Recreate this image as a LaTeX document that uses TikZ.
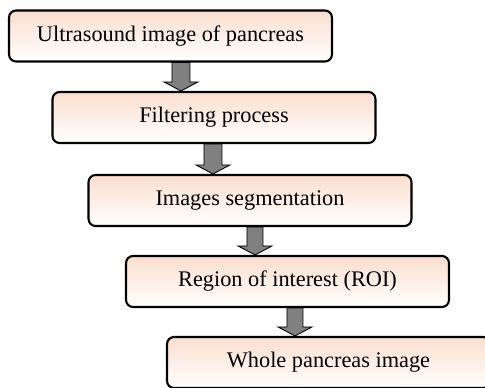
\documentclass[tikz,border=0pt]{standalone}
\usepackage{fontspec}
\setmainfont{Liberation Serif}
\usepackage{xcolor}
\usepackage{tikz}
\usetikzlibrary{calc}

\definecolor{peach}{RGB}{250,222,206}
\definecolor{arrowgray}{RGB}{128,128,128}

\begin{document}
\begin{tikzpicture}[x=0.02cm, y=-0.02cm,
  stepbox/.style={draw, line width=1.2pt, rounded corners=4pt,
    top color=peach, bottom color=white,
    minimum width=6.46cm, minimum height=1.02cm, inner sep=0pt,
    font=\fontsize{12.7}{15}\selectfont},
  blockarrow/.style={draw=black, line width=0.5pt, fill=arrowgray}]
% Page frame
\clip (0,0) rectangle (485,388);

% Draw the five steps
\node[stepbox] (us) at (170.5,36) {Ultrasound image of pancreas};
\node[stepbox] (fp) at (214,117.5) {Filtering process};
\node[stepbox] (seg) at (250,200.5) {Images segmentation};
\node[stepbox] (roi) at (287.5,281.5) {Region of interest (ROI)};
\node[stepbox] (wp) at (328.5,362.5) {Whole pancreas image};

% Draw block arrows between steps
\coordinate (t1) at ($(us.south)+(10.5,0)$);
\draw[blockarrow] ($(t1)+(-9,0)$) -- ($(t1 |- fp.north)+(-9,-9)$) -- ++(-8,0)
  -- (t1 |- fp.north) -- ++(17,-9) -- ++(-8,0) -- ($(t1)+(9,0)$) -- cycle;

\coordinate (t2) at ($(fp.south)+(-1,0)$);
\draw[blockarrow] ($(t2)+(-9,0)$) -- ($(t2 |- seg.north)+(-9,-9)$) -- ++(-8,0)
  -- (t2 |- seg.north) -- ++(17,-9) -- ++(-8,0) -- ($(t2)+(9,0)$) -- cycle;

\coordinate (t3) at ($(seg.south)+(5,0)$);
\draw[blockarrow] ($(t3)+(-8,0)$) -- ($(t3 |- roi.north)+(-8,-9)$) -- ++(-9,0)
  -- (t3 |- roi.north) -- ++(17,-9) -- ++(-9,0) -- ($(t3)+(8,0)$) -- cycle;

\coordinate (t4) at ($(roi.south)+(7.5,0)$);
\draw[blockarrow] ($(t4)+(-8,0)$) -- ($(t4 |- wp.north)+(-8,-9)$) -- ++(-9,0)
  -- (t4 |- wp.north) -- ++(17,-9) -- ++(-9,0) -- ($(t4)+(8,0)$) -- cycle;
\end{tikzpicture}
\end{document}
